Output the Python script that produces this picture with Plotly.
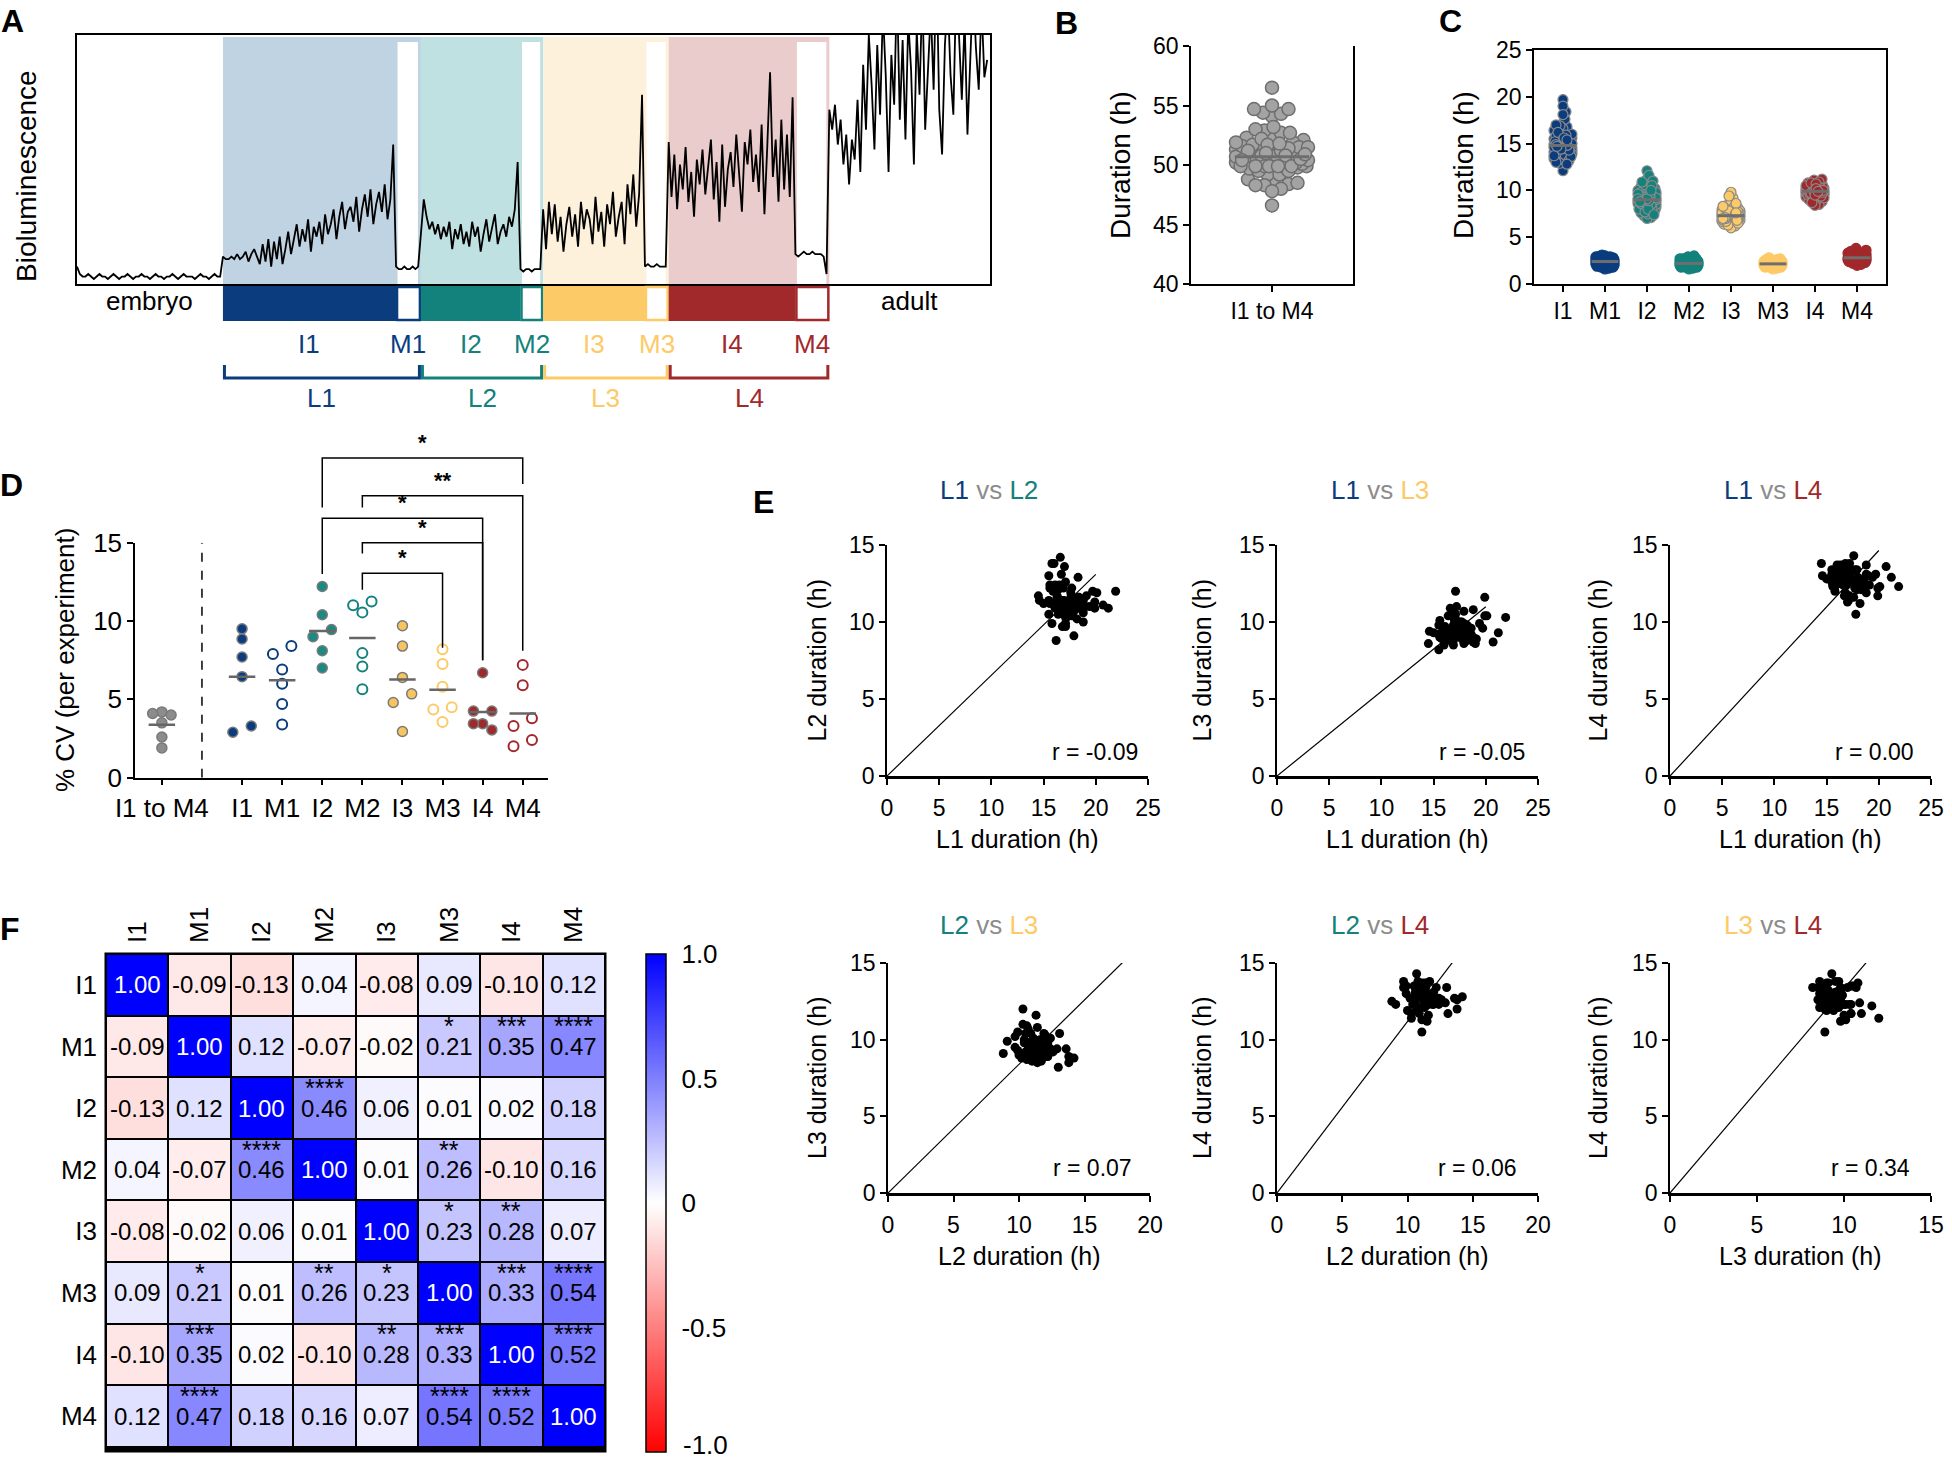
import math
import numpy as np
import plotly.graph_objects as go

W, H = 1952, 1460
FONT = "Liberation Sans, Arial, sans-serif"

NAVY, TEAL, YELLOW, RED = "#0b3d7e", "#13817c", "#fdca68", "#a1282b"
LIGHT = ["#c0d3e3", "#bfe1e2", "#fdf1dc", "#e9cccb"]
VS_GRAY = "#8c8c8c"

# ---------------- data ----------------
stages = ["I1", "M1", "I2", "M2", "I3", "M3", "I4", "M4"]
larval = ["L1", "L2", "L3", "L4"]
stage_colors = [NAVY, NAVY, TEAL, TEAL, YELLOW, YELLOW, RED, RED]
larval_colors = [NAVY, TEAL, YELLOW, RED]

# panel A: one example animal (hours) and its luminescence trace (% of axis)
example_durations = [15.3, 2.2, 8.8, 2.0, 9.0, 2.1, 11.2, 3.0]
embryo_hours = 12.9
adult_hours = 14.2
sig_embryo = [7, 4, 3, 3, 4, 3, 2, 3, 4, 3, 3, 2, 3, 4, 3, 2, 3, 3, 4, 3, 2, 3, 3, 4, 3, 3,
              2, 3, 4, 3, 3, 2, 3, 3, 4, 3, 2, 3, 4, 3, 3, 3, 2, 3, 4, 3, 3, 2, 3, 4, 3, 3]
sig_I1 = [11, 10, 10, 11, 10, 12, 10, 11, 13, 9, 12, 14, 11, 8, 16, 9, 18, 7, 17, 10,
          19, 8, 14, 21, 12, 18, 24, 15, 22, 17, 26, 13, 23, 19, 25, 16, 28, 20, 24, 30,
          18, 27, 33, 22, 29, 31, 25, 35, 21, 30, 36, 27, 38, 24, 32, 37, 29, 40, 26, 34, 56]
sig_M1 = [7, 6, 6, 7, 6, 6, 7, 6, 7]
sig_I2 = [20, 34, 27, 22, 25, 20, 24, 18, 23, 19, 25, 14, 22, 18, 24, 16, 21, 15, 25, 19,
          23, 13, 20, 26, 17, 22, 28, 16, 21, 24, 19, 27, 23, 30, 49]
sig_M2 = [6, 5, 6, 6, 5, 6, 6, 6]
sig_I3 = [30, 14, 33, 20, 32, 17, 27, 13, 24, 31, 19, 28, 15, 33, 22, 30, 26, 16, 35, 21,
          29, 15, 32, 24, 37, 19, 27, 33, 16, 40, 28, 44, 23, 36, 76]
sig_M3 = [7, 8, 7, 7, 8, 7, 7, 7]
sig_I4 = [57, 35, 52, 30, 48, 38, 55, 33, 45, 27, 50, 40, 54, 36, 47, 58, 34, 49, 25, 56,
          31, 46, 53, 39, 60, 44, 29, 57, 48, 62, 41, 52, 37, 64, 28, 55, 85, 43, 58, 33,
          66, 38, 60, 35, 75]
sig_M4 = [12, 11, 12, 13, 12, 12, 13, 12, 12, 12, 11, 4]
sig_adult = [70, 62, 72, 56, 66, 48, 60, 40, 58, 50, 74, 45, 88, 62, 100, 80, 54, 96, 68, 110,
             84, 45, 92, 72, 120, 66, 98, 58, 106, 86, 48, 102, 76, 118, 62, 92, 110, 78, 130, 70,
             52, 96, 115, 84, 68, 120, 100, 74, 106, 60, 88, 120, 95, 78, 112, 83, 90]

# panels B, C, E: per-animal stage durations (h)
dur_I1 = [14.2, 15.1, 13.8, 16.3, 14.9, 12.6, 15.5, 14.4, 17.2, 13.9,
          15.0, 14.6, 16.8, 13.4, 14.7, 15.8, 12.1, 14.1, 15.3, 19.7,
          14.8, 13.6, 15.6, 14.3, 16.1, 13.1, 14.9, 15.2, 18.4, 14.0,
          13.7, 15.4, 14.5, 16.6, 12.9, 15.0, 14.2, 17.6, 13.5, 14.8,
          15.7, 14.4, 13.3, 16.0, 14.6, 19.0, 13.9, 15.1, 14.7, 13.9,
          15.9, 14.0, 16.4, 13.8, 14.9, 15.3, 13.2, 18.1, 14.5, 15.5,
          14.1, 16.9, 13.6, 15.0, 14.3, 12.8, 15.8, 14.8, 17.0, 13.9,
          14.6, 15.2, 16.2, 13.0, 14.4, 15.6, 14.9, 15.4, 13.7, 14.7]
dur_M1 = [2.4, 2.1, 2.6, 2.3, 2.8, 2.0, 2.5, 2.2, 2.7, 2.4,
          1.9, 2.6, 2.3, 2.9, 2.1, 2.5, 2.4, 1.7, 2.6, 2.2,
          2.8, 2.3, 2.0, 2.5, 2.7, 2.4, 2.1, 3.0, 2.3, 2.6,
          2.2, 2.5, 1.8, 2.4, 2.7, 2.3, 2.9, 2.1, 2.5, 2.4,
          2.6, 2.0, 2.3, 2.8, 2.4, 2.2, 1.6, 2.6, 2.5, 2.3,
          2.7, 2.1, 2.4, 3.1, 2.2, 2.5, 2.6, 2.0, 2.4, 2.8,
          2.3, 2.5, 1.9, 2.7, 2.4, 2.2, 2.6, 2.3, 2.9, 2.1,
          2.5, 2.4, 2.0, 2.6, 2.3, 2.7, 2.2, 2.5, 2.4, 1.8]
dur_I2 = [9.2, 8.6, 10.1, 9.0, 7.8, 9.5, 8.9, 11.2, 8.4, 9.3,
          10.4, 8.1, 9.0, 9.7, 7.3, 8.8, 9.4, 12.1, 8.5, 9.1,
          8.2, 10.0, 9.6, 8.7, 7.6, 9.2, 10.8, 8.9, 9.0, 8.3,
          9.8, 7.1, 9.3, 8.6, 10.3, 9.1, 8.0, 9.5, 11.6, 8.8,
          9.0, 8.4, 9.9, 7.9, 9.2, 8.7, 10.6, 9.4, 8.5, 7.0,
          9.3, 10.2, 8.9, 9.6, 8.1, 9.0, 7.5, 9.7, 8.8, 10.9,
          8.6, 9.1, 8.3, 9.8, 11.0, 8.7, 9.4, 7.7, 9.0, 8.5,
          10.5, 9.2, 8.0, 9.3, 8.9, 9.6, 7.4, 9.1, 8.8, 10.0]
dur_M2 = [2.2, 2.4, 2.0, 2.3, 2.6, 1.9, 2.2, 3.0, 2.5, 2.3,
          1.8, 2.2, 2.7, 2.0, 2.4, 2.1, 2.3, 1.7, 2.2, 2.9,
          2.5, 2.1, 2.3, 2.0, 2.4, 2.2, 2.8, 2.6, 2.1, 2.3,
          2.2, 2.0, 2.0, 2.4, 2.1, 1.6, 2.3, 2.5, 2.2, 2.0,
          2.4, 2.1, 2.3, 2.7, 1.9, 2.2, 2.4, 2.0, 2.3, 1.8,
          2.1, 2.2, 2.5, 1.8, 2.3, 2.1, 2.4, 2.2, 2.6, 2.0,
          2.3, 1.9, 2.2, 2.4, 2.1, 2.5, 2.2, 2.0, 2.3, 2.7,
          2.1, 2.4, 2.2, 1.9, 2.3, 2.0, 2.5, 2.2, 2.1, 2.4]
dur_I3 = [7.2, 7.6, 6.9, 7.4, 8.1, 7.0, 7.3, 6.6, 7.8, 7.1,
          7.5, 9.2, 6.8, 7.3, 7.0, 7.7, 6.4, 7.2, 8.4, 8.2,
          6.9, 7.6, 7.1, 7.3, 6.2, 7.9, 7.2, 7.5, 6.7, 8.8,
          7.0, 7.4, 7.3, 6.5, 7.8, 7.1, 9.8, 7.2, 6.9, 7.6,
          7.3, 8.2, 7.0, 6.6, 7.5, 7.4, 6.0, 7.2, 7.7, 7.1,
          6.8, 7.3, 8.6, 7.0, 7.5, 6.9, 7.2, 7.9, 6.3, 7.4,
          7.1, 7.6, 7.3, 6.7, 8.0, 7.2, 7.0, 7.5, 9.4, 6.9,
          7.3, 7.8, 6.5, 7.1, 7.4, 7.2, 8.3, 6.8, 7.6, 7.0]
dur_M3 = [2.1, 2.3, 2.0, 2.2, 1.9, 2.4, 2.1, 2.2, 2.6, 2.0,
          2.3, 1.8, 2.1, 2.2, 2.5, 2.0, 2.2, 1.7, 2.3, 2.1,
          2.4, 2.0, 2.2, 2.1, 2.8, 1.9, 2.2, 2.3, 2.0, 2.1,
          2.2, 2.5, 1.8, 2.1, 2.3, 2.0, 2.2, 2.4, 1.6, 2.1,
          2.3, 2.2, 2.0, 2.1, 2.6, 1.9, 2.2, 2.3, 2.1, 2.0,
          2.4, 2.1, 2.2, 1.8, 2.3, 2.0, 2.1, 2.5, 2.2, 2.0,
          2.1, 2.3, 1.9, 2.2, 2.4, 2.1, 2.0, 2.7, 2.2, 2.1,
          1.9, 2.2, 2.3, 2.0, 2.1, 2.4, 2.2, 1.8, 2.1, 2.3]
dur_I4 = [9.9, 10.3, 9.6, 10.1, 9.4, 10.6, 9.8, 10.0, 9.2, 10.4,
          9.7, 8.8, 10.2, 9.9, 10.8, 9.5, 10.0, 9.3, 10.5, 9.8,
          11.1, 9.6, 10.1, 9.0, 9.9, 10.3, 9.7, 8.5, 10.2, 9.8,
          10.0, 9.4, 10.7, 9.9, 9.6, 10.4, 9.1, 10.1, 9.8, 11.2,
          9.5, 10.0, 9.7, 10.3, 8.9, 9.9, 10.6, 9.6, 10.2, 9.8,
          9.3, 10.0, 10.9, 9.7, 9.9, 8.4, 10.1, 9.5, 10.4, 9.8,
          10.2, 9.6, 9.9, 10.5, 9.2, 10.0, 9.7, 10.8, 9.4, 10.1,
          9.9, 8.7, 10.3, 9.8, 10.0, 9.6, 10.7, 9.5, 10.2, 9.9]
dur_M4 = [2.8, 2.6, 3.0, 2.7, 2.9, 2.4, 3.1, 2.8, 2.5, 3.3,
          2.7, 2.9, 2.2, 2.8, 3.0, 2.6, 3.8, 2.7, 2.9, 2.5,
          3.2, 2.8, 2.6, 2.9, 2.0, 2.8, 3.0, 2.7, 3.4, 2.6,
          2.8, 2.9, 2.5, 3.1, 2.7, 2.8, 2.3, 3.0, 2.8, 2.6,
          2.9, 3.5, 2.7, 2.8, 2.4, 3.0, 2.8, 2.6, 3.2, 2.7,
          2.9, 2.5, 2.8, 3.1, 2.7, 2.1, 2.9, 2.8, 3.0, 2.6,
          2.8, 3.3, 2.7, 2.9, 2.5, 2.8, 3.0, 2.6, 2.8, 3.6,
          2.7, 2.9, 2.4, 2.8, 3.1, 2.7, 2.8, 2.6, 3.0, 2.8]

# panel D: % CV per experiment
cv_groups = ["I1 to M4"] + stages
cv_total = [4.2, 4.1, 4.0, 3.5, 2.6, 1.9]
cv_I1 = [9.5, 8.85, 7.7, 6.45, 3.3, 2.9]
cv_M1 = [8.4, 7.9, 6.9, 6.0, 4.7, 3.4]
cv_I2 = [12.2, 10.4, 9.45, 9.0, 8.1, 7.0]
cv_M2 = [11.25, 11.0, 10.55, 7.95, 7.1, 5.65]
cv_I3 = [9.7, 8.4, 6.4, 5.35, 4.8, 2.95]
cv_M3 = [8.2, 7.25, 5.8, 4.5, 4.35, 3.55]
cv_I4 = [6.7, 4.25, 4.25, 3.45, 3.45, 3.05]
cv_M4 = [7.2, 5.9, 3.8, 3.3, 2.4, 2.0]
# significance brackets: left, right, bar level, left leg end, right leg end, label
cv_brackets = [("I2", "M4", 20.4, 17.25, 18.75, "*"),
               ("M2", "M4", 18.0, 17.25, 8.1, "**"),
               ("I2", "I4", 16.55, 13.0, 7.5, "*"),
               ("M2", "I4", 15.0, 14.3, 7.5, "*"),
               ("M2", "M3", 13.05, 12.0, 8.3, "*")]

# panel E
e_pairs = [("L1", "L2"), ("L1", "L3"), ("L1", "L4"), ("L2", "L3"), ("L2", "L4"), ("L3", "L4")]
e_r_text = ["-0.09", "-0.05", "0.00", "0.07", "0.06", "0.34"]
e_xmax = [25, 25, 25, 20, 20, 15]

# panel F: correlation matrix and significance
corr = [[1.00, -0.09, -0.13, 0.04, -0.08, 0.09, -0.10, 0.12],
        [-0.09, 1.00, 0.12, -0.07, -0.02, 0.21, 0.35, 0.47],
        [-0.13, 0.12, 1.00, 0.46, 0.06, 0.01, 0.02, 0.18],
        [0.04, -0.07, 0.46, 1.00, 0.01, 0.26, -0.10, 0.16],
        [-0.08, -0.02, 0.06, 0.01, 1.00, 0.23, 0.28, 0.07],
        [0.09, 0.21, 0.01, 0.26, 0.23, 1.00, 0.33, 0.54],
        [-0.10, 0.35, 0.02, -0.10, 0.28, 0.33, 1.00, 0.52],
        [0.12, 0.47, 0.18, 0.16, 0.07, 0.54, 0.52, 1.00]]
corr_stars = [["", "", "", "", "", "", "", ""],
              ["", "", "", "", "", "*", "***", "****"],
              ["", "", "", "****", "", "", "", ""],
              ["", "", "****", "", "", "**", "", ""],
              ["", "", "", "", "", "*", "**", ""],
              ["", "*", "", "**", "*", "", "***", "****"],
              ["", "***", "", "", "**", "***", "", "****"],
              ["", "****", "", "", "", "****", "****", ""]]
cbar_vals = [-1, -0.5, 0, 0.5, 1]
cbar_text = ["-1.0", "-0.5", "0", "0.5", "1.0"]

# ---------------- helpers ----------------
def px(x):
    return x / W


def py(y):
    return 1 - y / H


def dom_x(a, b):
    return [a / W, b / W]


def dom_y(top, bottom):
    return [1 - bottom / H, 1 - top / H]


def axis(**kw):
    base = dict(showgrid=False, zeroline=False, showline=True, linecolor="black", linewidth=1.5,
                ticks="outside", ticklen=6, tickwidth=1.5, tickcolor="black", automargin=False,
                tickfont=dict(size=23, color="black", family=FONT))
    base.update(kw)
    return base


def swarm(vals, ppu_y, ppu_x, min_px, step_px, max_px):
    order = sorted(range(len(vals)), key=lambda i: vals[i])
    cands = [0.0]
    k = 1
    while k * step_px <= max_px:
        cands += [k * step_px, -k * step_px]
        k += 1
    placed, out = [], [0.0] * len(vals)
    for i in order:
        yv = vals[i] * ppu_y
        chosen, best, best_d = None, 0.0, -1
        for c in cands:
            d = min([math.hypot(c - a, yv - b) for a, b in placed], default=1e9)
            if d >= min_px:
                chosen = c
                break
            if d > best_d:
                best, best_d = c, d
        if chosen is None:
            chosen = best
        placed.append((chosen, yv))
        out[i] = chosen / ppu_x
    return out


def row_offsets(vals, thr, step):
    order = sorted(range(len(vals)), key=lambda i: -vals[i])
    out = [0.0] * len(vals)
    rows, cur = [], []
    for i in order:
        if cur and vals[cur[0]] - vals[i] >= thr:
            rows.append(cur)
            cur = []
        cur.append(i)
    rows.append(cur)
    for r in rows:
        pattern = {1: [0], 2: [1, -1], 3: [0, -1, 1]}.get(len(r), [j - (len(r) - 1) / 2 for j in range(len(r))])
        for i, o in zip(r, pattern):
            out[i] = o * step
    return out


annotations = []
shapes = []


def text(x, y, s, size, color="black", angle=0, xanchor="center", yanchor="middle", bold=False):
    annotations.append(dict(x=px(x), y=py(y), xref="paper", yref="paper", text=f"<b>{s}</b>" if bold else s,
                            showarrow=False, textangle=angle, xanchor=xanchor, yanchor=yanchor,
                            font=dict(size=size, color=color, family=FONT)))


fig = go.Figure()
layout = {}

# ---------------- A ----------------
a_x0, a_x1, a_top, a_bot = 77, 990, 35, 284
segments = [sig_embryo, sig_I1, sig_M1, sig_I2, sig_M2, sig_I3, sig_M3, sig_I4, sig_M4, sig_adult]
seg_hours = [embryo_hours] + example_durations + [adult_hours]
t_all, s_all, start = [], [], 0.0
for vals, d in zip(segments, seg_hours):
    t_all += [start + i * d / len(vals) for i in range(len(vals))]
    s_all += vals
    start += d
t_total = start
fig.add_trace(go.Scatter(x=t_all, y=s_all, mode="lines", line=dict(color="black", width=1.8),
                         xaxis="x", yaxis="y", showlegend=False, hoverinfo="skip"))
layout["xaxis"] = axis(domain=dom_x(a_x0, a_x1), range=[0, t_total], anchor="y", mirror=True,
                       showticklabels=False, ticks="")
layout["yaxis"] = axis(domain=dom_y(a_top, a_bot), range=[0, 100], anchor="x", mirror=True,
                       showticklabels=False, ticks="")


def a_px(t):
    return a_x0 + t / t_total * (a_x1 - a_x0)


bounds = [embryo_hours]
for d in example_durations:
    bounds.append(bounds[-1] + d)
for k in range(4):
    i0, m0, m1 = a_px(bounds[2 * k]), a_px(bounds[2 * k + 1]), a_px(bounds[2 * k + 2])
    shapes.append(dict(type="rect", xref="paper", yref="paper", x0=px(i0), x1=px(m1), y0=py(a_bot), y1=py(a_top + 2),
                       fillcolor=LIGHT[k], line=dict(width=0), layer="below"))
    shapes.append(dict(type="rect", xref="paper", yref="paper", x0=px(m0 + 1.5), x1=px(m1 - 3), y0=py(a_bot),
                       y1=py(a_top + 7), fillcolor="white", line=dict(width=0), layer="below"))
    c = larval_colors[k]
    shapes.append(dict(type="rect", xref="paper", yref="paper", x0=px(i0), x1=px(m0), y0=py(321), y1=py(286),
                       fillcolor=c, line=dict(width=0)))
    shapes.append(dict(type="rect", xref="paper", yref="paper", x0=px(m0 + 1), x1=px(m1 - 1), y0=py(320), y1=py(287),
                       fillcolor="white", line=dict(color=c, width=2.5)))
    path = (f"M {px(i0 + 1.5)} {py(365)} L {px(i0 + 1.5)} {py(378)} "
            f"L {px(m1 - 1.5)} {py(378)} L {px(m1 - 1.5)} {py(365)}")
    shapes.append(dict(type="path", xref="paper", yref="paper", path=path, line=dict(color=c, width=3)))
    text((i0 + m0) / 2, 344, stages[2 * k], 26, c)
    text((m0 + m1) / 2, 344, stages[2 * k + 1], 26, c)
    text((i0 + m1) / 2, 398, larval[k], 26, c)
text((a_x0 + a_px(bounds[0])) / 2, 301, "embryo", 26)
text((a_px(bounds[-1]) + a_x1) / 2, 301, "adult", 26)
text(27, 176, "Bioluminescence", 28, angle=-90)

# ---------------- B ----------------
dur_lists = [dur_I1, dur_M1, dur_I2, dur_M2, dur_I3, dur_M3, dur_I4, dur_M4]
total = [round(sum(v), 2) for v in zip(*dur_lists)]
b_off = swarm(total, 238 / 20, 81, 8.5, 1.5, 36)
fig.add_trace(go.Scatter(x=b_off, y=total, mode="markers", xaxis="x2", yaxis="y2", showlegend=False,
                         marker=dict(size=13, color="#a3a3a3", line=dict(color="#6e6e6e", width=1.5))))
b_med = float(np.median(total))
fig.add_trace(go.Scatter(x=[-0.46, 0.46], y=[b_med, b_med], mode="lines", xaxis="x2", yaxis="y2",
                         showlegend=False, line=dict(color="#6e6e6e", width=3)))
layout["xaxis2"] = axis(domain=dom_x(1191, 1353), range=[-1, 1], anchor="y2", tickvals=[0],
                        ticktext=["I1 to M4"])
layout["yaxis2"] = axis(domain=dom_y(46, 284), range=[40, 60], anchor="x2", tickvals=[40, 45, 50, 55, 60],
                        mirror=True)
text(1120, 165, "Duration (h)", 28, angle=-90)

# ---------------- C ----------------
for i, vals in enumerate(dur_lists):
    off = swarm(vals, 235 / 25, 42, 4, 1, 9)
    is_m = stages[i].startswith("M")
    fig.add_trace(go.Scatter(x=[i + o for o in off], y=vals, mode="markers", xaxis="x3", yaxis="y3",
                             showlegend=False,
                             marker=dict(size=10, color=stage_colors[i],
                                         line=dict(color=stage_colors[i] if is_m else "#8a8a8a", width=1.2))))
    med = float(np.median(vals))
    fig.add_trace(go.Scatter(x=[i - 0.32, i + 0.32], y=[med, med], mode="lines", xaxis="x3", yaxis="y3",
                             showlegend=False, line=dict(color="#6e6e6e", width=3)))
layout["xaxis3"] = axis(domain=dom_x(1534, 1886), range=[-0.69, 7.69], anchor="y3", tickvals=list(range(8)),
                        ticktext=stages, mirror=True)
layout["yaxis3"] = axis(domain=dom_y(50, 284), range=[0, 25], anchor="x3", tickvals=[0, 5, 10, 15, 20, 25],
                        mirror=True)
text(1463, 165, "Duration (h)", 28, angle=-90)

# ---------------- D ----------------
cv_lists = [cv_total, cv_I1, cv_M1, cv_I2, cv_M2, cv_I3, cv_M3, cv_I4, cv_M4]
cv_pos = [0] + list(range(2, 10))
d_fill = ["#8c8c8c", NAVY, "white", "#1a8a82", "white", "#f6c561", "white", "#9f2a2c", "white"]
d_edge = ["#7a7a7a", "#7a7a7a", NAVY, "#7a7a7a", TEAL, "#7a7a7a", YELLOW, "#7a7a7a", RED]
for g, vals in enumerate(cv_lists):
    off = row_offsets(vals, 0.6, 0.23)
    fig.add_trace(go.Scatter(x=[cv_pos[g] + o for o in off], y=vals, mode="markers", xaxis="x4", yaxis="y4",
                             showlegend=False,
                             marker=dict(size=10, color=d_fill[g],
                                         line=dict(color=d_edge[g], width=1.5 if d_fill[g] != "white" else 2))))
    m = float(np.mean(vals))
    fig.add_trace(go.Scatter(x=[cv_pos[g] - 0.33, cv_pos[g] + 0.33], y=[m, m], mode="lines", xaxis="x4",
                             yaxis="y4", showlegend=False, line=dict(color="#666666", width=2.5)))
d_xr = [-0.67, 9.63]
d_x0, d_x1, d_y0, d_ppu = 135, 548, 777.7, 15.67
layout["xaxis4"] = axis(domain=dom_x(d_x0, d_x1), range=d_xr, anchor="y4", tickvals=cv_pos, ticktext=cv_groups,
                        tickfont=dict(size=26, color="black", family=FONT))
layout["yaxis4"] = axis(domain=dom_y(d_y0 - 15 * d_ppu, d_y0), range=[0, 15], anchor="x4",
                        tickvals=[0, 5, 10, 15], tickfont=dict(size=26, color="black", family=FONT))
shapes.append(dict(type="line", xref="x4", yref="y4", x0=1, x1=1, y0=0, y1=15,
                   line=dict(color="black", width=1.5, dash="dash")))


def d_px(v):
    return d_x0 + (v - d_xr[0]) / (d_xr[1] - d_xr[0]) * (d_x1 - d_x0)


pos_of = dict(zip(cv_groups, cv_pos))
for left, right, lvl, le, re_, lab in cv_brackets:
    xl, xr = d_px(pos_of[left]), d_px(pos_of[right])
    path = (f"M {px(xl)} {py(d_y0 - le * d_ppu)} L {px(xl)} {py(d_y0 - lvl * d_ppu)} "
            f"L {px(xr)} {py(d_y0 - lvl * d_ppu)} L {px(xr)} {py(d_y0 - re_ * d_ppu)}")
    shapes.append(dict(type="path", xref="paper", yref="paper", path=path, line=dict(color="black", width=1.5)))
    text((xl + xr) / 2, d_y0 - lvl * d_ppu - 1, lab, 22, yanchor="bottom", bold=True)
text(65, 660, "% CV (per experiment)", 26, angle=-90)

# ---------------- E ----------------
L = {"L1": [a + b for a, b in zip(dur_I1, dur_M1)], "L2": [a + b for a, b in zip(dur_I2, dur_M2)],
     "L3": [a + b for a, b in zip(dur_I3, dur_M3)], "L4": [a + b for a, b in zip(dur_I4, dur_M4)]}
lcol = dict(zip(larval, larval_colors))
e_xdom = [(887, 1148), (1277, 1538), (1670, 1931), (888, 1150), (1277, 1538), (1670, 1931)]
e_ydom = [(545, 776)] * 3 + [(963, 1193)] * 3
e_title_x = [989, 1380, 1773]
e_ytitle_x = [817, 1202, 1598]
e_r_x = [1140, 1527, 1916, 1134, 1519, 1912]
for k, (a, b) in enumerate(e_pairs):
    xa, ya = f"x{5 + k}", f"y{5 + k}"
    xs, ys = L[a], L[b]
    fig.add_trace(go.Scatter(x=xs, y=ys, mode="markers", xaxis=xa, yaxis=ya, showlegend=False,
                             marker=dict(size=9, color="black")))
    slope = float(np.mean(ys) / np.mean(xs))
    fig.add_trace(go.Scatter(x=[0, 20], y=[0, 20 * slope], mode="lines", xaxis=xa, yaxis=ya, showlegend=False,
                             line=dict(color="black", width=1.2)))
    layout[f"xaxis{5 + k}"] = axis(domain=dom_x(*e_xdom[k]), range=[0, e_xmax[k]], anchor=ya, dtick=5,
                                   linewidth=2.5, ticklabelstandoff=4)
    layout[f"yaxis{5 + k}"] = axis(domain=dom_y(*e_ydom[k]), range=[0, 15], anchor=xa, dtick=5)
    top, bot = e_ydom[k]
    row_title_y = 490 if k < 3 else 925
    title = (f"<span style='color:{lcol[a]}'>{a}</span> <span style='color:{VS_GRAY}'>vs</span> "
             f"<span style='color:{lcol[b]}'>{b}</span>")
    text(e_title_x[k % 3], row_title_y, title, 26)
    text(e_ytitle_x[k % 3], (top + bot) / 2, f"{b} duration (h)", 25, angle=-90)
    text(sum(e_xdom[k]) / 2, 839 if k < 3 else 1256, f"{a} duration (h)", 25)
    text(e_r_x[k], 752 if k < 3 else 1168, f"r = {e_r_text[k]}", 23, xanchor="right")

# ---------------- F ----------------
f_x0, f_x1, f_y0, f_y1 = 106, 605, 954, 1452
shapes.append(dict(type="rect", xref="paper", yref="paper", x0=px(f_x0 - 1.5), x1=px(f_x1 + 1.5),
                   y0=py(f_y1 + 0.5), y1=py(f_y0 - 1.5), fillcolor="black", line=dict(width=0), layer="below"))
fig.add_trace(go.Heatmap(
    z=corr, x=stages, y=stages, xaxis="x11", yaxis="y11", zmin=-1, zmax=1, xgap=2, ygap=2,
    colorscale=[[0, "#ff0000"], [0.5, "#ffffff"], [1, "#0000ff"]], hoverinfo="skip",
    colorbar=dict(x=px(646), xanchor="left", y=py((f_y0 + f_y1) / 2), yanchor="middle",
                  len=(f_y1 - f_y0) / H, lenmode="fraction", thickness=20, thicknessmode="pixels",
                  outlinecolor="black", outlinewidth=1.5, xpad=0, ypad=0,
                  tickvals=cbar_vals[1:], ticktext=cbar_text[1:],
                  ticks="outside", ticklen=10, tickcolor="rgba(0,0,0,0)",
                  tickfont=dict(size=26, color="black", family=FONT))))
# bottom colorbar label sits on the page edge, so it is placed by hand
text(681, 1445, cbar_text[0], 26, xanchor="left")
layout["xaxis11"] = dict(domain=dom_x(f_x0, f_x1), anchor="y11", side="top", tickangle=-90, showgrid=False,
                         zeroline=False, showline=False, ticks="", ticklabelstandoff=10, automargin=False,
                         tickfont=dict(size=26, color="black", family=FONT))
layout["yaxis11"] = dict(domain=dom_y(f_y0, f_y1), anchor="x11", autorange="reversed", showgrid=False,
                         zeroline=False, showline=False, ticks="", ticklabelstandoff=8, automargin=False,
                         tickfont=dict(size=26, color="black", family=FONT))
for i in range(8):
    for j in range(8):
        v = corr[i][j]
        annotations.append(dict(x=stages[j], y=stages[i], xref="x11", yref="y11", text=f"{v:.2f}",
                                showarrow=False, font=dict(size=24, family=FONT,
                                                           color="white" if abs(v) > 0.8 else "black")))
        if corr_stars[i][j]:
            annotations.append(dict(x=stages[j], y=stages[i], xref="x11", yref="y11", text=corr_stars[i][j],
                                    showarrow=False, yanchor="bottom", yshift=4,
                                    font=dict(size=25, family=FONT, color="black")))
for v in cbar_vals[1:-1]:
    yy = f_y0 + (1 - v) / 2 * (f_y1 - f_y0)
    for a, b in [(646, 653), (659, 666)]:
        shapes.append(dict(type="line", xref="paper", yref="paper", x0=px(a), x1=px(b), y0=py(yy), y1=py(yy),
                           line=dict(color="black", width=1.5)))

# panel letters
for lab, x, y in [("A", 12, 21), ("B", 1066, 23), ("C", 1450, 21), ("D", 11, 485), ("E", 763, 502), ("F", 10, 929)]:
    text(x, y, lab, 32, bold=True)

fig.update_layout(**layout)
fig.update_layout(width=W, height=H, margin=dict(l=0, r=0, t=0, b=0, pad=0, autoexpand=False),
                  paper_bgcolor="white", plot_bgcolor="rgba(0,0,0,0)", showlegend=False,
                  font=dict(family=FONT, color="black"), annotations=annotations, shapes=shapes)
fig.write_html("out.html", config={"displayModeBar": False},
               post_script="document.body.style.margin='0';")
